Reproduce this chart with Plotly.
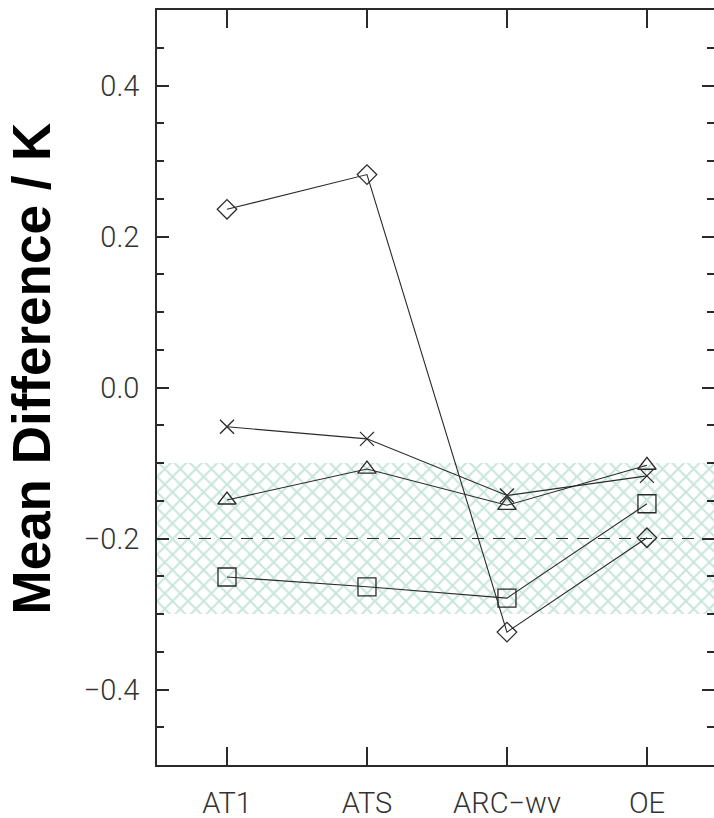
import plotly.graph_objects as go

categories = ["AT1", "ATS", "ARC\u2212wv", "OE"]
diamond_vals = [0.236, 0.282, -0.324, -0.199]
cross_vals = [-0.052, -0.068, -0.143, -0.117]
triangle_vals = [-0.149, -0.108, -0.156, -0.103]
square_vals = [-0.251, -0.264, -0.279, -0.154]
band_low, band_high = -0.3, -0.1
ref_level = -0.2
y_ticks = [-0.4, -0.2, 0.0, 0.2, 0.4]

xpos = list(range(len(categories)))
x_range = [-0.5, 3.479]
y_range = [-0.5, 0.5]

W, H = 714, 818
ML, MR, MT, MB = 157, 0, 10, 53

line_col = "#2a2a2a"
tick_font = dict(family="Roboto, Liberation Sans, Arial", size=29, color="#333333", weight=300)

fig = go.Figure()

# shaded band
fig.add_trace(go.Scatter(
    x=[x_range[0], x_range[1], x_range[1], x_range[0], x_range[0]],
    y=[band_low, band_low, band_high, band_high, band_low],
    mode="lines", line=dict(width=0), fill="toself",
    fillcolor="rgba(255,255,255,0)",
    fillpattern=dict(shape="x", fgcolor="#93ceb8", bgcolor="white", size=11, solidity=0.35),
    hoverinfo="skip", showlegend=False,
))

# reference dashed line
fig.add_trace(go.Scatter(
    x=[x_range[0], x_range[1]], y=[ref_level, ref_level],
    mode="lines", line=dict(color=line_col, width=1.2, dash="12px,9px"),
    hoverinfo="skip", showlegend=False,
))

series = [
    (diamond_vals, "diamond-open", 15),
    (cross_vals, "x-thin-open", 14),
    (triangle_vals, "triangle-up-open", 16),
    (square_vals, "square-open", 18),
]
for vals, sym, sz in series:
    fig.add_trace(go.Scatter(
        x=xpos, y=vals, mode="lines+markers",
        line=dict(color=line_col, width=1.1),
        marker=dict(symbol=sym, size=sz, color=line_col, line=dict(width=1.3, color=line_col)),
        showlegend=False,
    ))

# invisible trace for right-side ticks
fig.add_trace(go.Scatter(x=[xpos[0]], y=[None], yaxis="y2", showlegend=False, hoverinfo="skip"))

fig.update_layout(
    width=W, height=H,
    margin=dict(l=ML, r=MR, t=MT, b=MB, pad=0),
    paper_bgcolor="white", plot_bgcolor="white",
    xaxis=dict(
        range=x_range, tickmode="array", tickvals=xpos, ticktext=categories,
        showgrid=False, zeroline=False, showline=True, linecolor=line_col, linewidth=1.5,
        mirror="ticks", ticks="inside", ticklen=18, tickwidth=1.5, tickcolor=line_col,
        tickfont=tick_font, ticklabelstandoff=11, automargin=False,
    ),
    yaxis=dict(
        range=y_range, tickmode="array", tickvals=y_ticks,
        ticktext=[("\u2212" if v < 0 else "") + f"{abs(v):.1f}" for v in y_ticks],
        showgrid=False, zeroline=False, showline=True, linecolor=line_col, linewidth=1.5,
        ticks="inside", ticklen=12, tickwidth=1.5, tickcolor=line_col,
        minor=dict(dtick=0.05, tick0=0, ticks="inside", ticklen=7, tickwidth=1.5, tickcolor=line_col, showgrid=False),
        tickfont=tick_font, ticklabelstandoff=10, automargin=False,
    ),
    yaxis2=dict(
        range=y_range, overlaying="y", side="right", showline=False, showgrid=False, zeroline=False,
        tickmode="array", tickvals=y_ticks, showticklabels=False,
        ticks="inside", ticklen=12, tickwidth=1.5, tickcolor=line_col,
        minor=dict(dtick=0.05, tick0=0, ticks="inside", ticklen=7, tickwidth=1.5, tickcolor=line_col, showgrid=False),
        automargin=False,
    ),
    annotations=[dict(
        text="<b>Mean Difference / K</b>", textangle=-90,
        xref="paper", yref="paper", x=(31 - ML) / (W - ML - MR), y=1 - (368.5 - MT) / (H - MT - MB),
        xanchor="center", yanchor="middle", showarrow=False,
        font=dict(family="Liberation Sans, Arial", size=53, color="black"),
    )],
)

fig.write_html("out.html", config={"displayModeBar": False},
               post_script="document.body.style.margin='0';document.body.style.overflow='hidden';")
